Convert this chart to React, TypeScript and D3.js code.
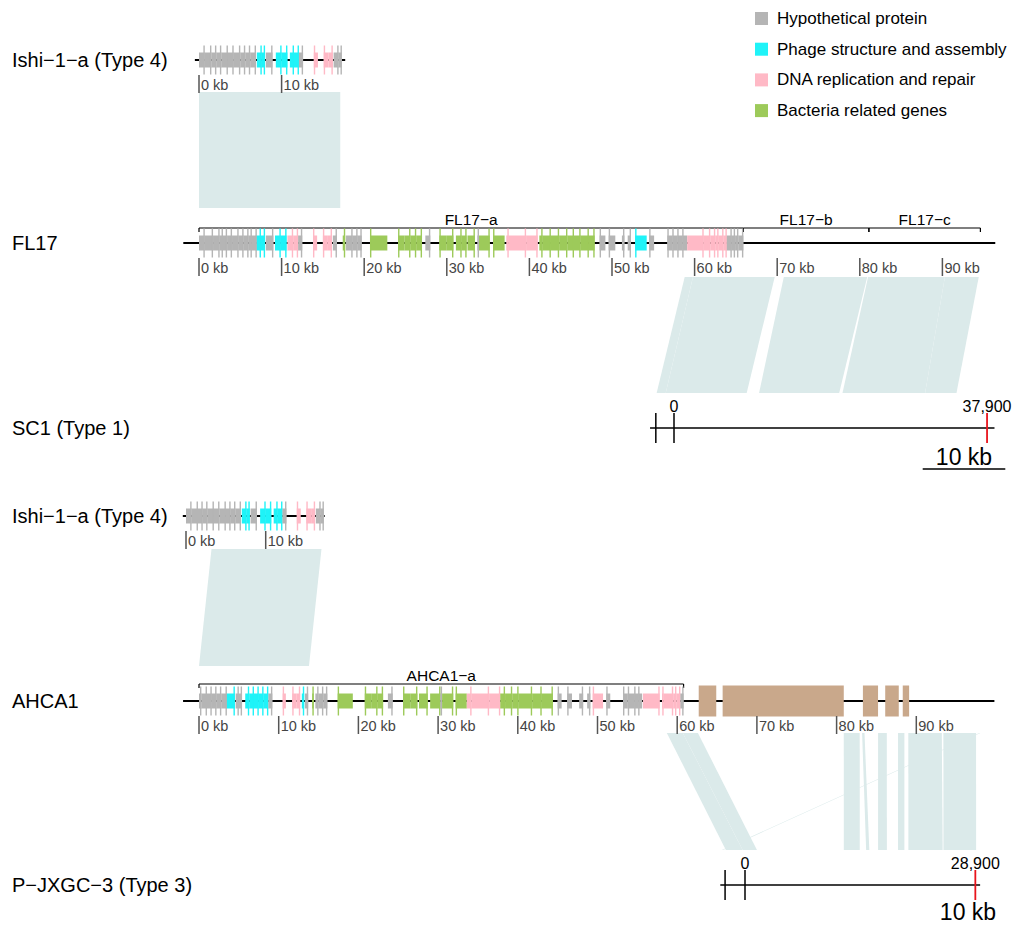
import React from 'react';
import * as d3 from 'd3';

// gene = [start kb, end kb, category, strand]
type Gene = [number, number, string, number];
type Cmp = [number, number, number, number]; // top start, top end, bottom start, bottom end (kb)

const categoryKeys = ['hyp', 'phage', 'dna', 'bact'];
const categoryNames = ['Hypothetical protein', 'Phage structure and assembly', 'DNA replication and repair', 'Bacteria related genes'];
const categoryColors = ['#b5b5b5', '#1ff3f8', '#ffb9c6', '#9dca5a'];

const kbTicks = [0, 10, 20, 30, 40, 50, 60, 70, 80, 90];
const ishiTicks = [0, 10];

const ishiGenes: Gene[] = [
  [0.0, 0.7, 'hyp', 1], [0.7, 1.5, 'hyp', 1], [1.5, 2.1, 'hyp', 1], [2.1, 2.7, 'hyp', 1], [2.7, 3.5, 'hyp', 1],
  [3.5, 4.2, 'hyp', 1], [4.2, 5.0, 'hyp', 1], [5.0, 5.6, 'hyp', 1], [5.6, 6.2, 'hyp', 1], [6.2, 6.9, 'hyp', 1],
  [7.0, 7.6, 'phage', 1], [7.6, 8.0, 'phage', 1], [8.1, 8.9, 'hyp', 1],
  [9.3, 10.0, 'phage', 1], [10.0, 10.7, 'phage', 1], [11.0, 11.5, 'phage', 1], [11.5, 12.1, 'phage', 1],
  [12.1, 12.6, 'hyp', 1], [13.9, 14.4, 'dna', -1], [15.1, 15.7, 'dna', -1], [15.7, 16.2, 'dna', 1],
  [16.3, 16.9, 'hyp', 1], [16.9, 17.3, 'hyp', 1],
];

const fl17Genes: Gene[] = [
  [0.0, 0.7, 'hyp', 1], [0.7, 1.7, 'hyp', 1], [1.7, 2.5, 'hyp', 1], [2.5, 2.9, 'hyp', 1], [2.9, 3.4, 'hyp', 1],
  [3.4, 4.0, 'hyp', 1], [4.0, 4.8, 'hyp', 1], [4.8, 5.4, 'hyp', 1], [5.4, 6.0, 'hyp', 1], [6.0, 6.4, 'hyp', 1],
  [6.4, 7.0, 'hyp', 1], [7.0, 7.5, 'phage', 1], [7.5, 8.0, 'phage', 1], [8.1, 9.0, 'hyp', 1],
  [9.2, 9.9, 'phage', 1], [9.9, 10.6, 'phage', 1], [10.7, 11.4, 'dna', 1], [11.4, 12.0, 'dna', 1],
  [12.0, 12.5, 'hyp', 1], [13.8, 14.3, 'dna', -1], [15.0, 15.6, 'dna', -1], [15.6, 16.1, 'dna', 1],
  [16.2, 16.7, 'hyp', 1], [17.4, 17.7, 'bact', 1], [17.8, 18.6, 'hyp', 1], [18.6, 19.2, 'hyp', 1],
  [19.2, 19.7, 'hyp', 1], [20.7, 22.8, 'bact', -1], [24.1, 24.9, 'bact', -1], [24.9, 25.6, 'bact', 1],
  [25.6, 26.3, 'bact', 1], [26.3, 27.0, 'bact', 1], [27.4, 28.0, 'hyp', 1], [29.1, 30.0, 'bact', -1],
  [30.0, 30.8, 'bact', 1], [31.1, 31.8, 'bact', 1], [31.8, 32.4, 'bact', 1], [32.5, 33.4, 'bact', 1],
  [33.7, 33.9, 'hyp', 1], [33.9, 35.2, 'bact', 1], [35.6, 37.0, 'bact', -1], [37.2, 37.5, 'dna', 1],
  [37.5, 39.6, 'dna', 1], [39.6, 41.0, 'dna', 1], [41.2, 41.6, 'bact', 1], [41.6, 42.6, 'bact', 1],
  [42.6, 43.6, 'bact', 1], [43.6, 44.6, 'bact', 1], [44.6, 45.4, 'bact', 1], [45.4, 46.2, 'bact', 1],
  [46.2, 47.2, 'bact', 1], [47.2, 47.9, 'bact', 1], [48.5, 49.2, 'hyp', -1], [49.6, 50.4, 'hyp', -1],
  [51.2, 51.5, 'hyp', 1], [51.9, 52.3, 'hyp', 1], [52.8, 54.2, 'phage', -1], [54.5, 55.1, 'hyp', -1],
  [56.7, 57.3, 'hyp', -1], [57.3, 57.9, 'hyp', -1], [57.9, 58.5, 'hyp', -1], [58.5, 59.1, 'hyp', -1],
  [59.1, 61.1, 'dna', 1], [61.1, 61.9, 'dna', 1], [61.9, 62.5, 'dna', 1], [62.5, 62.9, 'dna', 1],
  [62.9, 63.5, 'dna', 1], [63.5, 63.9, 'dna', 1], [63.9, 64.5, 'hyp', 1], [64.5, 64.9, 'hyp', 1],
  [64.9, 65.3, 'hyp', 1], [65.3, 65.9, 'hyp', 1],
];

const ahca1Genes: Gene[] = [
  [0.0, 0.3, 'hyp', 1], [0.3, 1.0, 'hyp', 1], [1.0, 1.6, 'hyp', 1], [1.6, 2.2, 'hyp', 1], [2.2, 2.8, 'hyp', 1],
  [2.8, 3.5, 'hyp', 1], [3.5, 4.5, 'phage', 1], [4.6, 5.0, 'hyp', 1], [5.0, 5.4, 'hyp', 1],
  [5.8, 6.3, 'phage', 1], [6.3, 6.9, 'phage', 1], [6.9, 7.5, 'phage', 1], [7.5, 8.1, 'phage', 1],
  [8.1, 8.7, 'phage', 1], [8.7, 9.2, 'hyp', 1], [10.5, 10.9, 'dna', -1], [11.7, 12.2, 'dna', -1],
  [12.2, 12.7, 'dna', 1], [12.9, 13.2, 'phage', 1], [13.3, 13.7, 'hyp', 1], [14.2, 14.4, 'bact', 1],
  [14.6, 15.0, 'hyp', 1], [15.0, 15.6, 'hyp', 1], [15.6, 16.1, 'hyp', 1], [17.4, 19.3, 'bact', -1],
  [20.8, 21.6, 'bact', -1], [21.6, 22.4, 'bact', 1], [22.4, 23.1, 'bact', 1], [23.7, 24.3, 'hyp', 1],
  [25.6, 26.5, 'bact', -1], [26.5, 27.4, 'bact', 1], [27.6, 28.7, 'bact', 1], [29.0, 30.3, 'bact', 1],
  [30.3, 30.5, 'hyp', 1], [30.5, 31.9, 'bact', 1], [32.2, 33.6, 'bact', -1], [33.6, 34.2, 'dna', 1],
  [34.2, 36.4, 'dna', 1], [36.4, 37.8, 'dna', 1], [37.8, 38.4, 'bact', 1], [38.4, 39.3, 'bact', 1],
  [39.3, 40.1, 'bact', 1], [40.1, 41.8, 'bact', 1], [41.8, 43.0, 'bact', 1], [43.0, 44.4, 'bact', 1],
  [45.0, 45.5, 'hyp', -1], [46.2, 46.8, 'hyp', -1], [47.7, 48.2, 'hyp', 1], [48.7, 49.1, 'hyp', 1],
  [49.4, 50.7, 'dna', -1], [51.1, 51.6, 'hyp', -1], [53.2, 53.8, 'hyp', -1], [53.8, 54.6, 'hyp', -1],
  [54.6, 55.1, 'hyp', -1], [55.1, 55.6, 'hyp', -1], [55.7, 57.8, 'dna', 1], [58.1, 58.3, 'dna', 1],
  [58.3, 59.5, 'dna', 1], [59.5, 59.9, 'dna', 1], [59.9, 60.4, 'dna', 1], [60.4, 60.8, 'hyp', 1],
];

// unannotated region blocks in AHCA1 (kb)
const ahca1Other: [number, number][] = [[62.7, 64.9], [65.7, 80.9], [83.3, 85.2], [86.1, 87.8], [88.3, 89.1]];

const fl17Parts: [string, number, number][] = [['FL17−a', 0, 65.9], ['FL17−b', 65.9, 81.1], ['FL17−c', 81.1, 94.6]];
const ahca1Parts: [string, number, number][] = [['AHCA1−a', 0, 60.8]];

const cmpIshiFl17: Cmp[] = [[0, 17.1, 0, 17.1]];
const cmpFl17Sc1: Cmp[] = [
  [58.8, 59.8, -2.1, -1.0], [59.8, 69.7, -1.0, 8.8], [70.8, 80.9, 10.3, 20.0],
  [81.0, 90.3, 20.4, 30.4], [90.3, 94.4, 30.4, 34.2],
];
const cmpIshiAhca1: Cmp[] = [[3.2, 17.0, 0, 13.8]];
const cmpAhca1Pjx: Cmp[] = [
  [97.9, 98.05, -2.9, -2.75],
  [58.7, 60.7, -2.4, -0.3], [60.7, 62.6, -0.3, 1.5],
  [80.9, 82.9, 12.4, 14.4], [83.2, 83.5, 15.2, 15.6], [85.2, 86.3, 16.7, 17.8],
  [87.7, 88.5, 19.2, 20.0], [89.0, 93.2, 20.5, 24.8], [93.4, 97.5, 24.9, 29.0],
];

const sc1Marks = [-2.2, 0];
const sc1End = 37.9;
const pjxMarks = [-2.5, 0];
const pjxEnd = 28.9;

const FONT = '"Liberation Sans", Arial, Helvetica, sans-serif';
const BLOCK = '#dbeaea';

const color = d3.scaleOrdinal<string, string>().domain(categoryKeys).range(categoryColors);

function kbScale(x0: number, pxPerKb: number) {
  return d3.scaleLinear().domain([0, 10]).range([x0, x0 + 10 * pxPerKb]);
}

function Track({ x, y, from, to, genes, ticks, other }: {
  x: d3.ScaleLinear<number, number>, y: number, from: number, to: number,
  genes: Gene[], ticks: number[], other?: [number, number][]
}) {
  return (
    <g>
      <line x1={x(from)} x2={x(to)} y1={y} y2={y} stroke="#000" strokeWidth={1.8} />
      {genes.map((g, i) => {
        const x1 = x(g[0]), x2 = x(g[1]);
        const sx = g[3] >= 0 ? x2 - 1.4 : x1;
        return (
          <g key={i} fill={color(g[2])}>
            <rect x={x1} y={y - 7.5} width={x2 - x1} height={15} />
            <rect x={sx} y={y - 14.5} width={1.4} height={29} />
          </g>
        );
      })}
      {(other || []).map((o, i) => (
        <rect key={'o' + i} x={x(o[0])} y={y - 15.5} width={x(o[1]) - x(o[0])} height={31} fill="#c9a88b" />
      ))}
      {ticks.map(t => (
        <g key={t}>
          <line x1={x(t)} x2={x(t)} y1={y + 15} y2={y + 33} stroke="#555" strokeWidth={1.5} />
          <text x={x(t) + 2} y={y + 30} fontSize={14.5} fill="#444" fontFamily={FONT}>{t} kb</text>
        </g>
      ))}
    </g>
  );
}

function Brackets({ x, y, parts }: { x: d3.ScaleLinear<number, number>, y: number, parts: [string, number, number][] }) {
  return (
    <g>
      {parts.map(([name, a, b]) => (
        <g key={name}>
          <line x1={x(a)} x2={x(b)} y1={y} y2={y} stroke="#000" strokeWidth={1.2} />
          <line x1={x(a)} x2={x(a)} y1={y} y2={y + 4} stroke="#000" strokeWidth={1.2} />
          <line x1={x(b)} x2={x(b)} y1={y} y2={y + 4} stroke="#000" strokeWidth={1.2} />
          <text x={(x(a) + x(b)) / 2} y={y - 3} textAnchor="middle" fontSize={15.5} fontFamily={FONT}>{name}</text>
        </g>
      ))}
    </g>
  );
}

function Comparisons({ top, bottom, yTop, yBot, data }: {
  top: d3.ScaleLinear<number, number>, bottom: d3.ScaleLinear<number, number>,
  yTop: number, yBot: number, data: Cmp[]
}) {
  return (
    <g>
      {data.map((c, i) => (
        <polygon key={i} fill={BLOCK}
          points={[[top(c[0]), yTop], [top(c[1]), yTop], [bottom(c[3]), yBot], [bottom(c[2]), yBot]].map(p => p.join(',')).join(' ')} />
      ))}
    </g>
  );
}

function Ruler({ x, y, from, to, marks, end }: {
  x: d3.ScaleLinear<number, number>, y: number, from: number, to: number, marks: number[], end: number
}) {
  return (
    <g>
      <line x1={x(from)} x2={x(to)} y1={y} y2={y} stroke="#000" strokeWidth={1.5} />
      {marks.map(m => (
        <line key={m} x1={x(m)} x2={x(m)} y1={y - 15} y2={y + 15} stroke="#000" strokeWidth={1.5} />
      ))}
      <text x={x(0)} y={y - 16} textAnchor="middle" fontSize={16} fontFamily={FONT}>0</text>
      <line x1={x(end)} x2={x(end)} y1={y - 15} y2={y + 15} stroke="#e8141c" strokeWidth={1.8} />
      <text x={x(end)} y={y - 16} textAnchor="middle" fontSize={16} fontFamily={FONT}>{d3.format(',')(end * 1000)}</text>
    </g>
  );
}

function ScaleBar({ x, cx, y, ty }: { x: d3.ScaleLinear<number, number>, cx: number, y: number, ty: number }) {
  const len = x(10) - x(0);
  return (
    <g>
      <text x={cx} y={ty} textAnchor="middle" fontSize={23} fontFamily={FONT}>10 kb</text>
      <line x1={cx - len / 2} x2={cx + len / 2} y1={y} y2={y} stroke="#000" strokeWidth={1.5} />
    </g>
  );
}

export default function App() {
  // panel 1
  const p1 = 8.26;
  const xIshi1 = kbScale(199, p1);
  const xFl17 = kbScale(199, p1);
  const xSc1 = kbScale(674, p1);
  // panel 2
  const p2 = 7.97;
  const xIshi2 = kbScale(186, p2);
  const xAhca1 = kbScale(199, p2);
  const xPjx = kbScale(745, p2);

  const yIshi1 = 60, yFl17 = 243, ySc1 = 428, yIshi2 = 516, yAhca1 = 701, yPjx = 885;

  const labels: [string, number][] = [
    ['Ishi−1−a (Type 4)', yIshi1], ['FL17', yFl17], ['SC1 (Type 1)', ySc1],
    ['Ishi−1−a (Type 4)', yIshi2], ['AHCA1', yAhca1], ['P−JXGC−3 (Type 3)', yPjx],
  ];

  return (
    <svg width={1014} height={926} style={{ position: 'absolute', left: 0, top: 0, background: '#fff' }}>
      <rect width={1014} height={926} fill="#fff" />
      {labels.map(([t, y], i) => (
        <text key={i} x={12} y={y + 7} fontSize={20} fontFamily={FONT}>{t}</text>
      ))}

      <g>
        {categoryNames.map((n, i) => (
          <g key={n}>
            <rect x={755} y={12 + i * 30.7} width={13} height={13} fill={categoryColors[i]} />
            <text x={777} y={24 + i * 30.7} fontSize={17} fontFamily={FONT}>{n}</text>
          </g>
        ))}
      </g>

      {/* panel 1 */}
      <Comparisons top={xIshi1} bottom={xFl17} yTop={yIshi1 + 32} yBot={yFl17 - 35} data={cmpIshiFl17} />
      <Comparisons top={xFl17} bottom={xSc1} yTop={yFl17 + 34} yBot={ySc1 - 35} data={cmpFl17Sc1} />
      <Track x={xIshi1} y={yIshi1} from={-0.5} to={17.7} genes={ishiGenes} ticks={ishiTicks} />
      <Brackets x={xFl17} y={yFl17 - 15} parts={fl17Parts} />
      <Track x={xFl17} y={yFl17} from={-1.9} to={96.4} genes={fl17Genes} ticks={kbTicks} />
      <Ruler x={xSc1} y={ySc1} from={-2.9} to={38.8} marks={sc1Marks} end={sc1End} />
      <ScaleBar x={xFl17} cx={964} y={469} ty={465} />

      {/* panel 2 */}
      <Comparisons top={xIshi2} bottom={xAhca1} yTop={yIshi2 + 33} yBot={yAhca1 - 35} data={cmpIshiAhca1} />
      <Comparisons top={xAhca1} bottom={xPjx} yTop={yAhca1 + 32} yBot={yPjx - 35} data={cmpAhca1Pjx} />
      <Track x={xIshi2} y={yIshi2} from={-0.4} to={17.4} genes={ishiGenes} ticks={ishiTicks} />
      <Brackets x={xAhca1} y={yAhca1 - 17} parts={ahca1Parts} />
      <Track x={xAhca1} y={yAhca1} from={-2.0} to={99.8} genes={ahca1Genes} ticks={kbTicks} other={ahca1Other} />
      <Ruler x={xPjx} y={yPjx} from={-3.1} to={29.5} marks={pjxMarks} end={pjxEnd} />
      <ScaleBar x={xAhca1} cx={968} y={932} ty={920} />
    </svg>
  );
}
